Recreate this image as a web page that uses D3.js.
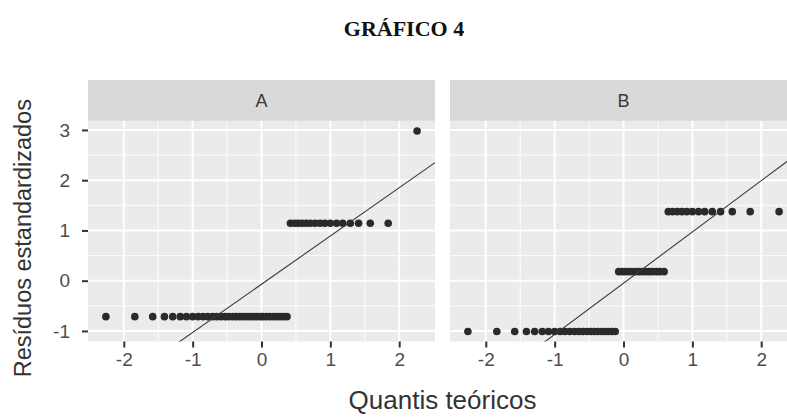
<!DOCTYPE html>
<html>
<head>
<meta charset="utf-8">
<script src="https://cdn.jsdelivr.net/npm/d3@7"></script>
<style>
  body { margin: 0; background: #fff; }
  svg { display: block; }
</style>
</head>
<body>
<div id="chart"></div>
<script>
// theoretical quantiles (same for both panels)
var quantis = [-2.26, -1.84, -1.58, -1.41, -1.29, -1.18, -1.09, -1.00, -0.92, -0.85,
               -0.78, -0.71, -0.65, -0.59, -0.53, -0.48, -0.42, -0.37, -0.32, -0.27,
               -0.22, -0.17, -0.12, -0.07, -0.02, 0.02, 0.07, 0.12, 0.17, 0.22,
               0.27, 0.32, 0.37, 0.42, 0.48, 0.53, 0.59, 0.65, 0.71, 0.78,
               0.85, 0.92, 1.00, 1.09, 1.18, 1.29, 1.41, 1.58, 1.84, 2.26];

// standardized residuals, sorted
var residuosA = [-0.715, -0.715, -0.715, -0.715, -0.715, -0.715, -0.715, -0.715, -0.715, -0.715,
                 -0.715, -0.715, -0.715, -0.715, -0.715, -0.715, -0.715, -0.715, -0.715, -0.715,
                 -0.715, -0.715, -0.715, -0.715, -0.715, -0.715, -0.715, -0.715, -0.715, -0.715,
                 -0.715, -0.715, -0.715, 1.143, 1.143, 1.143, 1.143, 1.143, 1.143, 1.143,
                 1.143, 1.143, 1.143, 1.143, 1.143, 1.143, 1.143, 1.143, 1.143, 2.98];

var residuosB = [-1.01, -1.01, -1.01, -1.01, -1.01, -1.01, -1.01, -1.01, -1.01, -1.01,
                 -1.01, -1.01, -1.01, -1.01, -1.01, -1.01, -1.01, -1.01, -1.01, -1.01,
                 -1.01, -1.01, -1.01, 0.18, 0.18, 0.18, 0.18, 0.18, 0.18, 0.18,
                 0.18, 0.18, 0.18, 0.18, 0.18, 0.18, 0.18, 1.374, 1.374, 1.374,
                 1.374, 1.374, 1.374, 1.374, 1.374, 1.374, 1.374, 1.374, 1.374, 1.374];

var paineis = ["A", "B"];
var retas = [{ a: -0.07, b: 0.96 }, { a: -0.05, b: 1.02 }];  // reference lines
var xTicks = [-2, -1, 0, 1, 2];
var yTicks = [-1, 0, 1, 2, 3];

var W = 787, H = 419;
var panelW = 347, panelTop = 120.9, panelBottom = 341.5;
var stripTop = 80;
var panelX = [88, 450];

var svg = d3.select("#chart")
    .append("svg")
    .attr("width", W)
    .attr("height", H);

svg.append("rect").attr("width", W).attr("height", H).attr("fill", "#fff");

var x = d3.scaleLinear().domain([-2.52, 2.52]).range([0, panelW]);
var y = d3.scaleLinear().domain([-1.21, 3.18]).range([panelBottom, panelTop]);

var font = "'Liberation Sans', Arial, sans-serif";

// title
svg.append("text")
    .attr("x", 404)
    .attr("y", 36)
    .attr("text-anchor", "middle")
    .style("font-family", "'Liberation Serif', 'Times New Roman', serif")
    .style("font-weight", "bold")
    .style("font-size", "22px")
    .style("fill", "#111")
    .text("GRÁFICO 4");

var dados = [residuosA, residuosB];

paineis.forEach(function (nome, k) {
    var g = svg.append("g").attr("transform", "translate(" + panelX[k] + ",0)");

    g.append("clipPath").attr("id", "clip" + k)
        .append("rect")
        .attr("x", 0).attr("y", panelTop)
        .attr("width", panelW).attr("height", panelBottom - panelTop);

    // strip
    g.append("rect")
        .attr("x", 0).attr("y", stripTop)
        .attr("width", panelW).attr("height", panelTop - stripTop)
        .attr("fill", "#D9D9D9");
    g.append("text")
        .attr("x", panelW / 2)
        .attr("y", (stripTop + panelTop) / 2)
        .attr("dy", "0.36em")
        .attr("text-anchor", "middle")
        .style("font-family", font)
        .style("font-size", "18px")
        .style("fill", "#3a3a3a")
        .text(nome);

    // panel background
    g.append("rect")
        .attr("x", 0).attr("y", panelTop)
        .attr("width", panelW).attr("height", panelBottom - panelTop)
        .attr("fill", "#EBEBEB");

    // minor grid
    var xMinor = [-1.5, -0.5, 0.5, 1.5];
    var yMinor = [-0.5, 0.5, 1.5, 2.5];
    g.selectAll(".xminor").data(xMinor).enter().append("line")
        .attr("x1", function (d) { return x(d); }).attr("x2", function (d) { return x(d); })
        .attr("y1", panelTop).attr("y2", panelBottom)
        .attr("stroke", "#fff").attr("stroke-width", 0.9);
    g.selectAll(".yminor").data(yMinor).enter().append("line")
        .attr("x1", 0).attr("x2", panelW)
        .attr("y1", function (d) { return y(d); }).attr("y2", function (d) { return y(d); })
        .attr("stroke", "#fff").attr("stroke-width", 0.9);

    // major grid
    g.selectAll(".xmajor").data(xTicks).enter().append("line")
        .attr("x1", function (d) { return x(d); }).attr("x2", function (d) { return x(d); })
        .attr("y1", panelTop).attr("y2", panelBottom)
        .attr("stroke", "#fff").attr("stroke-width", 2);
    g.selectAll(".ymajor").data(yTicks).enter().append("line")
        .attr("x1", 0).attr("x2", panelW)
        .attr("y1", function (d) { return y(d); }).attr("y2", function (d) { return y(d); })
        .attr("stroke", "#fff").attr("stroke-width", 2);

    // points
    var pts = quantis.map(function (q, i) { return { q: q, r: dados[k][i] }; });
    g.append("g").attr("clip-path", "url(#clip" + k + ")")
        .selectAll("circle")
        .data(pts)
        .enter()
        .append("circle")
        .attr("cx", function (d) { return x(d.q); })
        .attr("cy", function (d) { return y(d.r); })
        .attr("r", 3.8)
        .attr("fill", "#2a2a2a");

    // reference line
    var reta = retas[k];
    var xs = x.domain();
    g.append("line")
        .attr("clip-path", "url(#clip" + k + ")")
        .attr("x1", x(xs[0])).attr("y1", y(reta.a + reta.b * xs[0]))
        .attr("x2", x(xs[1])).attr("y2", y(reta.a + reta.b * xs[1]))
        .attr("stroke", "#3a3a3a")
        .attr("stroke-width", 1.1);

    // x axis
    var xAxis = g.append("g")
        .attr("transform", "translate(0," + panelBottom + ")")
        .call(d3.axisBottom(x).tickValues(xTicks).tickSize(6).tickPadding(5)
            .tickFormat(function (d) { return d; }));
    xAxis.select(".domain").remove();
    xAxis.selectAll("line").attr("stroke", "#333").attr("stroke-width", 2);
    xAxis.selectAll("text")
        .style("font-family", font).style("font-size", "19px").style("fill", "#4D4D4D");

    // y axis only on first panel
    if (k === 0) {
        var yAxis = g.append("g")
            .call(d3.axisLeft(y).tickValues(yTicks).tickSize(6).tickPadding(12)
                .tickFormat(function (d) { return d; }));
        yAxis.select(".domain").remove();
        yAxis.selectAll("line").attr("stroke", "#333").attr("stroke-width", 2);
        yAxis.selectAll("text")
            .style("font-family", font).style("font-size", "19px").style("fill", "#4D4D4D");
    }
});

// axis titles
svg.append("text")
    .attr("x", (panelX[0] + panelX[1] + panelW) / 2)
    .attr("y", 409)
    .attr("text-anchor", "middle")
    .style("font-family", font)
    .style("font-size", "26px")
    .style("fill", "#333")
    .text("Quantis teóricos");

svg.append("text")
    .attr("transform", "translate(31," + (panelTop + panelBottom) / 2 + ") rotate(-90)")
    .attr("x", -7)
    .attr("text-anchor", "middle")
    .style("font-family", font)
    .style("font-size", "23.5px")
    .style("fill", "#333")
    .text("Resíduos estandardizados");
</script>
</body>
</html>
